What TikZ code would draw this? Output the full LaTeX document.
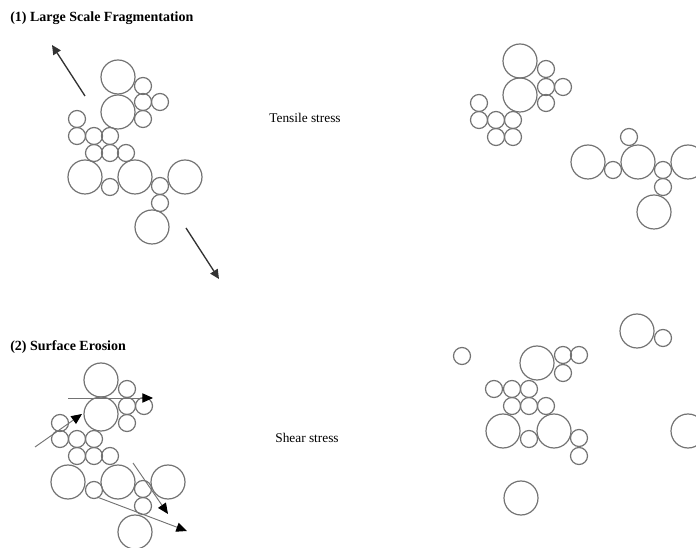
\documentclass[tikz,border=0pt]{standalone}
\usepackage{fontspec}
\setmainfont{Liberation Serif}
\usetikzlibrary{arrows.meta}
\begin{document}
\begin{tikzpicture}[x=0.75pt,y=-0.75pt,
  grain/.style={draw=black!55,line width=0.9pt},
  force/.style={draw=black!80,line width=1pt,-{Triangle[length=7pt,width=6.5pt]}},
  erode/.style={draw=black!55,line width=0.7pt,-{Triangle[length=8pt,width=7pt,fill=black,color=black]}},
  title/.style={font=\fontsize{10.5}{12}\selectfont\bfseries,anchor=west,inner sep=0pt},
  lbl/.style={font=\fontsize{10}{12}\selectfont,inner sep=0pt}]
\useasboundingbox (0,0) rectangle (696,548);
\def\B{17}\def\S{8.5}
% Titles and labels
\node[title] (t1) at (10,18) {(1) Large Scale Fragmentation};
\node[title] (t2) at (10,347) {(2) Surface Erosion};
\node[lbl] (l1) at (305,118) {Tensile stress};
\node[lbl] (l2) at (307,438) {Shear stress};
% (1) left aggregate
\foreach \x/\y in {118/77,118/112,85/177,135/177,185/177,152/227}
  \draw[grain] (\x,\y) circle (\B);
\foreach \x/\y in {143/86,143/102,160/102,143/119,77/119,77/136,94/136,110/136,94/153,110/153,126/153,110/187,160/186,160/203}
  \draw[grain] (\x,\y) circle (\S);
\coordinate (a1s) at (85,96); \coordinate (a1e) at (52,45);
\coordinate (a2s) at (186,228); \coordinate (a2e) at (219,279);
\draw[force] (a1s) -- (a1e);
\draw[force] (a2s) -- (a2e);
% (1) right fragments
\foreach \x/\y in {520/61,520/95,588/162,638/162,688/162,654/212}
  \draw[grain] (\x,\y) circle (\B);
\foreach \x/\y in {546/69,546/87,563/87,546/103,479/103,479/120,496/120,513/120,496/137,513/137,613/170,629/137,663/170,663/187}
  \draw[grain] (\x,\y) circle (\S);
% (2) left aggregate
\foreach \x/\y in {101/380,101/414,68/482,118/482,168/482,135/532}
  \draw[grain] (\x,\y) circle (\B);
\foreach \x/\y in {127/389,127/406,144/406,127/423,60/423,60/439,77/439,94/439,77/456,94/456,110/456,94/490,143/489,143/506}
  \draw[grain] (\x,\y) circle (\S);
\coordinate (b1s) at (68,398); \coordinate (b1e) at (153,398);
\coordinate (b2s) at (35,447); \coordinate (b2e) at (82,414);
\coordinate (b3s) at (133,463); \coordinate (b3e) at (168,514);
\coordinate (b4s) at (97,497); \coordinate (b4e) at (187,531);
\draw[erode] (b1s) -- (b1e);
\draw[erode] (b2s) -- (b2e);
\draw[erode] (b3s) -- (b3e);
\draw[erode] (b4s) -- (b4e);
% (2) right: eroded aggregate and loose grains
\foreach \x/\y in {537/363,503/431,554/431,521/498,637/331,688/431}
  \draw[grain] (\x,\y) circle (\B);
\foreach \x/\y in {462/356,563/355,579/355,563/373,494/389,512/389,529/389,512/406,529/406,546/406,529/439,579/438,579/456,663/338}
  \draw[grain] (\x,\y) circle (\S);
\end{tikzpicture}
\end{document}
